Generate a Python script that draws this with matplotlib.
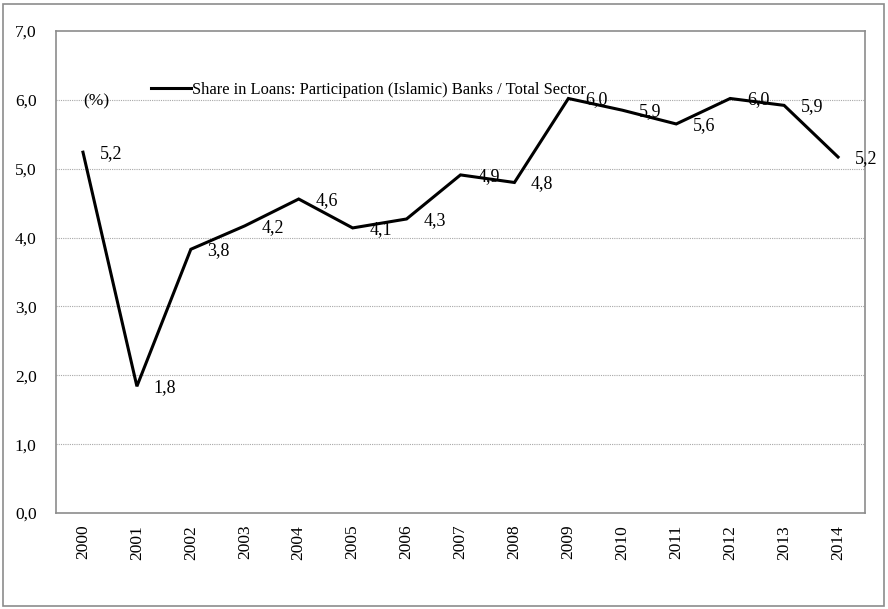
import matplotlib
matplotlib.use("Agg")
import matplotlib.pyplot as plt
from matplotlib.patches import Rectangle

years = ["2000", "2001", "2002", "2003", "2004", "2005", "2006", "2007",
         "2008", "2009", "2010", "2011", "2012", "2013", "2014"]
share = [5.24, 1.84, 3.83, 4.17, 4.56, 4.14, 4.27, 4.91, 4.80, 6.02, 5.85, 5.65, 6.02, 5.92, 5.17]
labels = ["5,2", "1,8", "3,8", "4,2", "4,6", "4,1", "4,3", "4,9", "4,8", "6,0", "5,9", "5,6", "6,0", "5,9", "5,2"]
yticks = [0, 1, 2, 3, 4, 5, 6, 7]
series_name = "Share in Loans: Participation (Islamic) Banks / Total Sector"

plt.rcParams['font.family'] = ['Liberation Serif', 'DejaVu Serif']

W, H = 888, 609
fig = plt.figure(figsize=(W / 100, H / 100), dpi=100)
ax = fig.add_axes([56 / W, 1 - 513 / H, (865 - 56) / W, (513 - 31) / H])

x = list(range(len(years)))
ax.plot(x, share, color='black', lw=2.2, solid_joinstyle='miter', zorder=3, label=series_name)
for xi, yi, lab in zip(x, share, labels):
    ax.annotate(lab, (xi, yi), xytext=(12, -1), textcoords='offset points',
                ha='left', va='center', fontsize=13, color='black', zorder=4)

ax.set_xlim(-0.5, len(years) - 0.5)
ax.set_ylim(0, 7)
ax.set_yticks(yticks)
ax.set_yticklabels([f"{v:.1f}".replace('.', ',') for v in yticks], fontsize=12.5)
ax.set_xticks(x)
ax.set_xticklabels(years, rotation=90, fontsize=12.5, va='top')
ax.tick_params(axis='x', length=0, pad=8.5)
ax.tick_params(axis='y', length=0, pad=14)
for v in yticks[1:-1]:
    ax.axhline(v, color='#a8a8a8', lw=0.8, ls=(0, (1, 1)), zorder=1)
for s in ax.spines.values():
    s.set_color('#8c8c8c')
    s.set_linewidth(1.2)

ax.text(83 / W, 1 - 101 / H, "(%)", transform=fig.transFigure, fontsize=12.5, va='center', ha='left')
leg = ax.legend(loc='center left', bbox_to_anchor=(151 / W, 1 - 90 / H), bbox_transform=fig.transFigure,
                frameon=False, fontsize=11.85, handlelength=2.4, handletextpad=0.1, borderpad=0, borderaxespad=0)

fig.patches.append(Rectangle((3 / W, 3 / H), (884 - 3) / W, (605 - 3) / H, transform=fig.transFigure,
                             fill=False, edgecolor='#8c8c8c', lw=1.2))

fig.savefig("out.png", dpi=100)
